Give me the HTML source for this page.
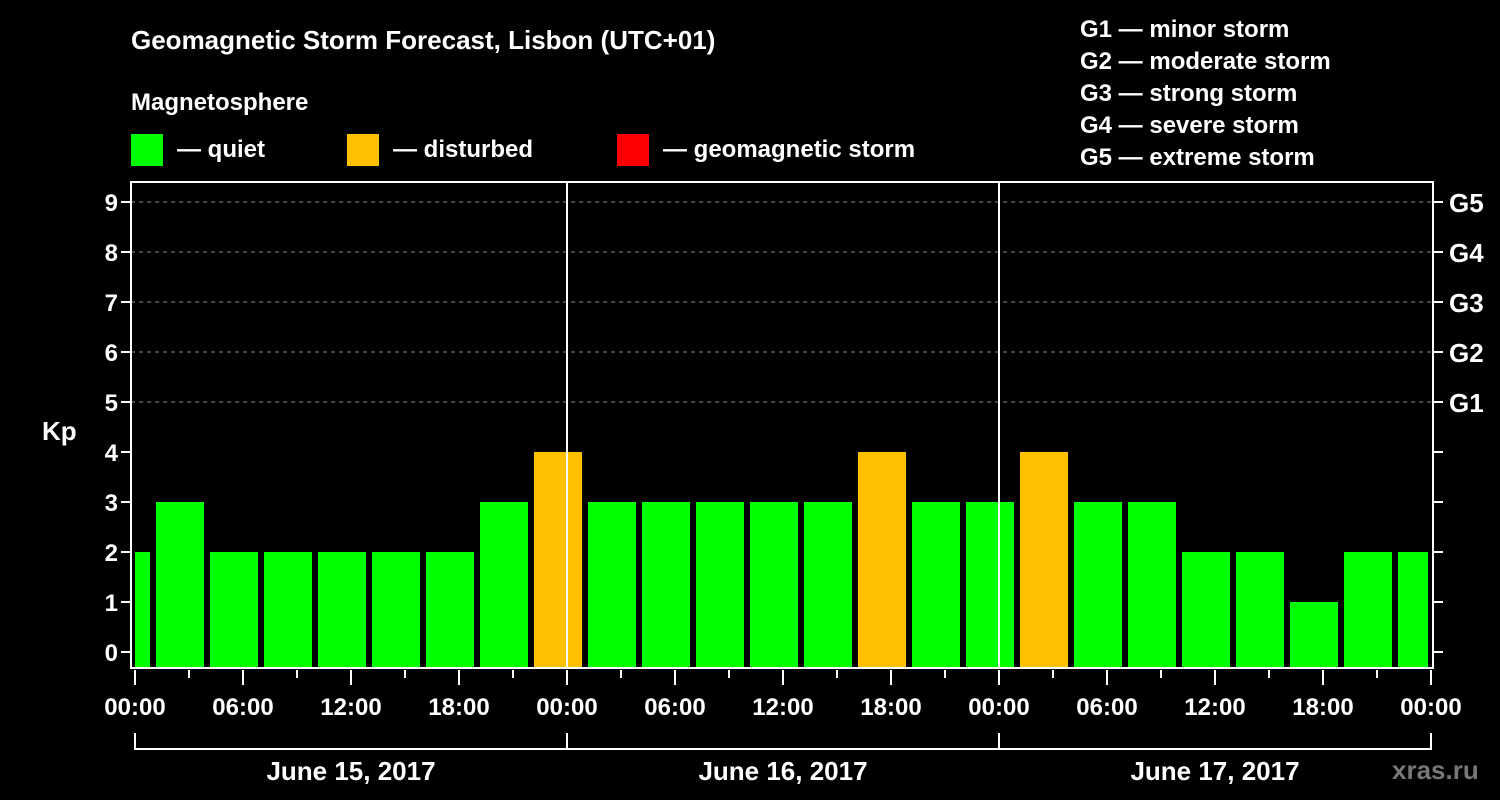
<!DOCTYPE html>
<html><head><meta charset="utf-8"><style>
html,body{margin:0;padding:0;background:#000;width:1500px;height:800px;overflow:hidden}
text{font-family:"Liberation Sans",Arial,sans-serif;font-weight:bold;fill:#fff}
</style></head><body>
<svg id="chart" width="1500" height="800" xmlns="http://www.w3.org/2000/svg">
<text x="131" y="49" font-size="26">Geomagnetic Storm Forecast, Lisbon (UTC+01)</text>
<text x="131" y="110" font-size="24">Magnetosphere</text>
<rect x="131" y="134" width="32" height="32" fill="#00ff00"/>
<text x="177" y="157" font-size="24">— quiet</text>
<rect x="347" y="134" width="32" height="32" fill="#ffc000"/>
<text x="393" y="157" font-size="24">— disturbed</text>
<rect x="617" y="134" width="32" height="32" fill="#ff0000"/>
<text x="663" y="157" font-size="24">— geomagnetic storm</text>
<g font-size="24">
<text x="1080" y="37">G1 — minor storm</text>
<text x="1080" y="69">G2 — moderate storm</text>
<text x="1080" y="101">G3 — strong storm</text>
<text x="1080" y="133">G4 — severe storm</text>
<text x="1080" y="165">G5 — extreme storm</text>
</g>
<text x="42" y="440" font-size="26">Kp</text>
<text x="1392" y="779" font-size="26" style="fill:#777">xras.ru</text>
<g id="grid"></g><g id="bars"></g><g id="axes"></g>
</svg>
<script>
const kpValues=[2,3,2,2,2,2,2,3,4,3,3,3,3,3,4,3,3,4,3,3,2,2,1,2,2];
const startHour=-2, stepHours=3;
const yTicks=[0,1,2,3,4,5,6,7,8,9];
const gLabels=["","","","","","G1","G2","G3","G4","G5"];
const xTickLabels=["00:00","06:00","12:00","18:00"];
const dayLabels=["June 15, 2017","June 16, 2017","June 17, 2017"];
const NS="http://www.w3.org/2000/svg";
const X0=135,PXH=18,L=131,R=1433,T=182,B=668;
const xs=h=>X0+h*PXH, ys=v=>652-v*50;
function mk(parent,tag,attrs){const e=document.createElementNS(NS,tag);for(const k in attrs)e.setAttribute(k,attrs[k]);document.getElementById(parent).appendChild(e);return e;}
yTicks.forEach((v,i)=>{
 if(v>=5){const g=mk('grid','line',{x1:L,x2:R,y1:ys(v),y2:ys(v),stroke:'#888','stroke-dasharray':'4,4','stroke-width':1});
 
 }
 const t=mk('axes','line',{x1:L-10,x2:L,y1:ys(v),y2:ys(v),stroke:'#fff','stroke-width':2});
 
 
 const t2=mk('axes','line',{x1:R,x2:R+10,y1:ys(v),y2:ys(v),stroke:'#fff','stroke-width':2});
 
 
 const lb=mk('axes','text',{x:L-13,y:ys(v)+9,'font-size':24,'text-anchor':'end'});lb.textContent=v;
 
 
 if(gLabels[i]){const gl=mk('axes','text',{x:R+16,y:ys(v)+10,'font-size':26});gl.textContent=gLabels[i];
 
 }
});
kpValues.forEach((v,i)=>{
 const h0=startHour+i*stepHours;
 let x1=xs(h0)+3,x2=xs(h0+stepHours)-3;
 x1=Math.max(x1,X0);x2=Math.min(x2,R-5);
 const col=v>=5?'#ff0000':(v>=4?'#ffc000':'#00ff00');
 const r=mk('bars','rect',{x:x1,y:ys(v),width:x2-x1,height:B-ys(v),fill:col});
 
 
});
for(let d=1;d<3;d++){const l=mk('axes','line',{x1:xs(24*d),x2:xs(24*d),y1:T,y2:B,stroke:'#fff','stroke-width':2});
 
 }
const fr=mk('axes','rect',{x:L,y:T,width:R-L,height:B-T,fill:'none',stroke:'#fff','stroke-width':2});


for(let h=0;h<=72;h+=3){
 const major=h%6===0;
 const t=mk('axes','line',{x1:xs(h),x2:xs(h),y1:B+2,y2:major?B+17:B+10,stroke:'#fff','stroke-width':2});
 
 
 if(major){const lb=mk('axes','text',{x:xs(h),y:715,'font-size':24,'text-anchor':'middle'});lb.textContent=xTickLabels[(h/6)%4];
 
 }
}
const br=mk('axes','path',{d:`M${xs(0)},733V749H${xs(72)}V733`,fill:'none',stroke:'#fff','stroke-width':2});


for(let d=1;d<3;d++){const l=mk('axes','line',{x1:xs(24*d),x2:xs(24*d),y1:733,y2:749,stroke:'#fff','stroke-width':2});
 
 }
dayLabels.forEach((s,d)=>{const t=mk('axes','text',{x:xs(24*d+12),y:780,'font-size':26,'text-anchor':'middle'});t.textContent=s;
 
 });
</script>
</body></html>
